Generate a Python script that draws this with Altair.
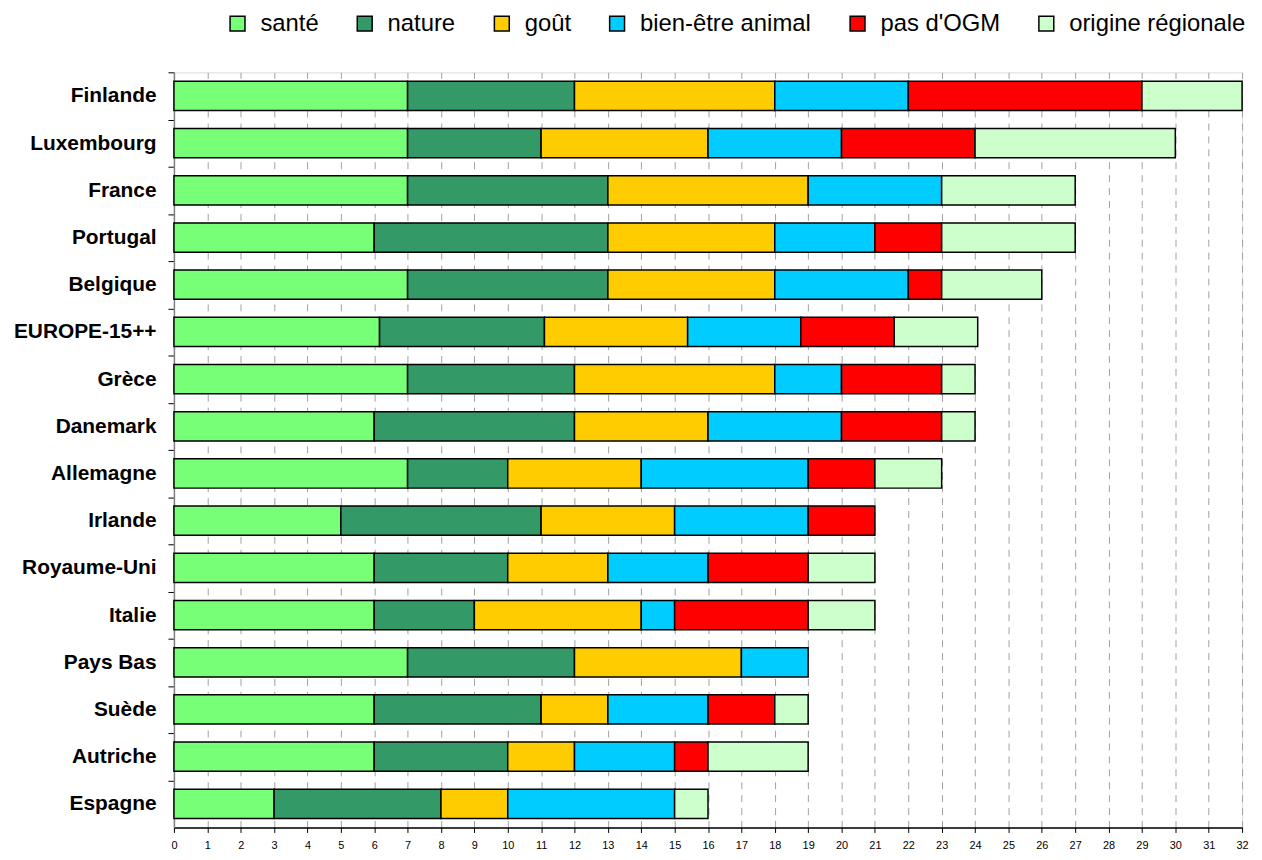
import altair as alt
import pandas as pd

countries = ["Finlande", "Luxembourg", "France", "Portugal", "Belgique", "EUROPE-15++",
             "Grèce", "Danemark", "Allemagne", "Irlande", "Royaume-Uni", "Italie",
             "Pays Bas", "Suède", "Autriche", "Espagne"]

categories = ["santé", "nature", "goût", "bien-être animal", "pas d'OGM", "origine régionale"]
colors = ["#77FF77", "#339966", "#FFCC00", "#00CCFF", "#FF0000", "#CCFFCC"]

sante    = [7, 7, 7, 6, 7, 6.16, 7, 6, 7, 5, 6, 6, 7, 6, 6, 3]
nature   = [5, 4, 6, 7, 6, 4.94, 5, 6, 3, 6, 4, 3, 5, 5, 4, 5]
gout     = [6, 5, 6, 5, 5, 4.29, 6, 4, 4, 4, 3, 5, 5, 2, 2, 2]
bienetre = [4, 4, 4, 3, 4, 3.39, 2, 4, 5, 4, 3, 1, 2, 3, 3, 5]
ogm      = [7, 4, 0, 2, 1, 2.80, 3, 3, 2, 2, 3, 4, 0, 2, 1, 0]
origine  = [3, 6, 4, 4, 3, 2.50, 1, 1, 2, 0, 2, 2, 0, 1, 3, 1]

series = [sante, nature, gout, bienetre, ogm, origine]

rows = []
for ci, (cat, vals) in enumerate(zip(categories, series)):
    for country, v in zip(countries, vals):
        if v > 0:
            rows.append({"pays": country, "critère": cat, "valeur": v, "ordre": ci})
df = pd.DataFrame(rows)

plot_h = 760
step = plot_h / 16.0

chart = alt.Chart(df).mark_bar(stroke="black", strokeWidth=1.5).encode(
    y=alt.Y("pays:N", sort=countries, title=None,
            scale=alt.Scale(paddingInner=0.38, paddingOuter=0.19),
            axis=alt.Axis(labelFont="Liberation Sans", labelFontSize=21, labelFontWeight="bold",
                          labelColor="black", labelPadding=12, tickSize=6, tickColor="black",
                          tickOffset=-step / 2, labelOffset=step / 2,
                          domainColor="#808080", domainWidth=1.5, grid=False)),
    x=alt.X("valeur:Q", stack="zero", title=None,
            scale=alt.Scale(domain=[0, 32], nice=False, zero=True),
            axis=alt.Axis(values=list(range(0, 33)), labelFont="Liberation Sans", labelFontSize=11,
                          labelColor="black", tickColor="black", tickSize=5, domainColor="black",
                          domainWidth=1.5, labelPadding=7, grid=True, gridColor="#A0A0A0",
                          gridDash=[7, 6], gridWidth=1, labelFlush=False)),
    color=alt.Color("critère:N", sort=categories,
                    scale=alt.Scale(domain=categories, range=colors),
                    legend=alt.Legend(title=None, orient="none", direction="horizontal",
                                      legendX=52, legendY=-61, symbolType="square",
                                      symbolSize=225, symbolStrokeColor="black",
                                      symbolStrokeWidth=1.5, labelFont="Liberation Sans",
                                      labelFontSize=24, labelColor="black", labelOffset=11,
                                      columnPadding=34, labelLimit=300)),
    order=alt.Order("ordre:Q"),
).properties(
    width=1075, height=plot_h,
    autosize=alt.AutoSizeParams(type="none"),
    padding={"left": 167, "top": 62, "right": 12, "bottom": 30},
).configure_view(stroke=None).configure(background="white")

chart.save("out.html", embed_options={"renderer": "svg", "actions": False})
